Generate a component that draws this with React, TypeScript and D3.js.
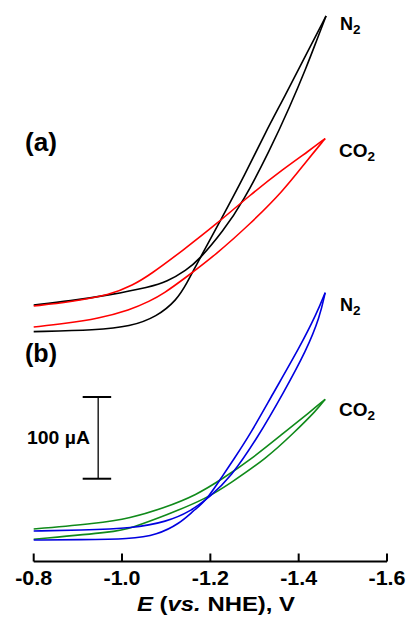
import React from "react";
import * as d3 from "d3";

// ---- data (E in V vs NHE, I in µA relative to each panel's baseline) ----
const tickValues = [-0.8, -1.0, -1.2, -1.4, -1.6];
const tickLabels = ["-0.8", "-1.0", "-1.2", "-1.4", "-1.6"];

// Panel (a) N2 (black)
const aN2Fwd: [number, number][] = [
  [-0.8, 0.4], [-0.943, 2.4], [-1.018, 6.5], [-1.079, 18.7], [-1.124, 39.2],
  [-1.146, 58.8], [-1.174, 88.1], [-1.226, 139.5], [-1.278, 192.2],
  [-1.324, 243.6], [-1.369, 288.9], [-1.414, 336.6], [-1.462, 386.8],
];
const aN2Rev: [number, number][] = [
  [-1.462, 386.8], [-1.441, 357.4], [-1.418, 324.7], [-1.38, 275.8],
  [-1.335, 222.8], [-1.274, 159.1], [-1.229, 123.6], [-1.174, 88.1],
  [-1.146, 75.9], [-1.101, 61.2], [-1.063, 55.1], [-0.973, 45.3],
  [-0.882, 38.0], [-0.8, 33.0],
];
// Panel (a) CO2 (red)
const aCO2Up: [number, number][] = [
  [-0.8, 31.8], [-0.882, 36.7], [-0.973, 45.3], [-1.025, 57.5], [-1.063, 69.8],
  [-1.139, 100.4], [-1.214, 132.2], [-1.29, 167.7], [-1.365, 199.5],
  [-1.426, 222.8], [-1.46, 236.8],
];
const aCO2Low: [number, number][] = [
  [-1.46, 236.8], [-1.418, 209.3], [-1.365, 172.6], [-1.29, 132.2],
  [-1.214, 95.5], [-1.146, 67.3], [-1.093, 46.5], [-1.063, 37.9],
  [-1.018, 26.9], [-0.946, 16.5], [-0.871, 10.4], [-0.8, 6.1],
];
// Panel (b) N2 (blue)
const bN2Fwd: [number, number][] = [
  [-0.8, 0], [-0.905, 0.4], [-1.018, 1.2], [-1.079, 6.1], [-1.131, 20.4],
  [-1.161, 35.5], [-1.192, 49.0], [-1.229, 79.6], [-1.252, 97.9],
  [-1.292, 131.0], [-1.34, 177.5], [-1.403, 236.6], [-1.441, 277.5],
  [-1.46, 302.7],
];
const bN2Rev: [number, number][] = [
  [-1.46, 302.7], [-1.448, 273.3], [-1.418, 232.6], [-1.365, 179.6],
  [-1.308, 126.1], [-1.245, 75.9], [-1.199, 53.0], [-1.154, 34.6],
  [-1.101, 22.4], [-1.026, 14.3], [-0.905, 11.9], [-0.8, 11.0],
];
// Panel (b) CO2 (green)
const bCO2Low: [number, number][] = [
  [-0.8, 0.9], [-0.988, 10.2], [-1.018, 14.3], [-1.101, 30.6], [-1.192, 51.0],
  [-1.245, 69.4], [-1.328, 100.4], [-1.388, 130.6], [-1.441, 159.1],
  [-1.46, 172.2],
];
const bCO2Up: [number, number][] = [
  [-1.46, 172.2], [-1.426, 157.0], [-1.365, 130.6], [-1.29, 97.9],
  [-1.229, 75.5], [-1.169, 55.1], [-1.093, 38.8], [-1.018, 26.6],
  [-0.943, 20.4], [-0.8, 13.5],
];

const scaleBarCurrent = [75, 175]; // µA, panel (b) scale
const scaleBarE = -0.946;

const FONT = "'Liberation Sans', Arial, Helvetica, sans-serif";

export default function App() {
  const W = 406, H = 623;
  const x = d3.scaleLinear().domain([-0.8, -1.6]).range([33.7, 387]);
  const yA = d3.scaleLinear().domain([0, 100]).range([332, 332 - 81.7]);
  const yB = d3.scaleLinear().domain([0, 100]).range([540, 540 - 81.7]);
  const axisY = 561.5;

  const lineA = d3.line<[number, number]>().x(d => x(d[0])).y(d => yA(d[1])).curve(d3.curveBasis);
  const lineB = d3.line<[number, number]>().x(d => x(d[0])).y(d => yB(d[1])).curve(d3.curveBasis);

  const curves = [
    { d: lineA(aN2Fwd), c: "#000000" },
    { d: lineA(aN2Rev), c: "#000000" },
    { d: lineA(aCO2Up), c: "#ff0000" },
    { d: lineA(aCO2Low), c: "#ff0000" },
    { d: lineB(bCO2Low), c: "#108a1a" },
    { d: lineB(bCO2Up), c: "#108a1a" },
    { d: lineB(bN2Fwd), c: "#0000e0" },
    { d: lineB(bN2Rev), c: "#0000e0" },
  ];

  const sbx = x(scaleBarE);
  const sbTop = yB(scaleBarCurrent[1]);
  const sbBot = yB(scaleBarCurrent[0]);

  return (
    <svg width={W} height={H} style={{ position: "absolute", left: 0, top: 0, background: "#fff" }} fontFamily={FONT}>
      {curves.map((c, i) => (
        <path key={i} d={c.d || ""} fill="none" stroke={c.c} strokeWidth={1.6} strokeLinejoin="round" />
      ))}

      {/* axis */}
      <line x1={x(-0.8)} x2={x(-1.6)} y1={axisY} y2={axisY} stroke="#000" strokeWidth={2} />
      {tickValues.map((t, i) => (
        <g key={i}>
          <line x1={x(t)} x2={x(t)} y1={axisY} y2={axisY - 8} stroke="#000" strokeWidth={2} />
          <text x={x(t)} y={585} textAnchor="middle" fontSize={20} fontWeight="bold"
            textLength={37} lengthAdjust="spacingAndGlyphs">{tickLabels[i]}</text>
        </g>
      ))}
      <text x={216} y={611} textAnchor="middle" fontSize={21} fontWeight="bold"
        textLength={158} lengthAdjust="spacingAndGlyphs">
        <tspan fontStyle="italic">E</tspan> (<tspan fontStyle="italic">vs.</tspan> NHE), V
      </text>

      {/* scale bar */}
      <line x1={sbx} x2={sbx} y1={sbTop} y2={sbBot} stroke="#000" strokeWidth={1.3} />
      <line x1={sbx - 15.5} x2={sbx + 13} y1={sbTop} y2={sbTop} stroke="#000" strokeWidth={2} />
      <line x1={sbx - 15.5} x2={sbx + 13} y1={sbBot} y2={sbBot} stroke="#000" strokeWidth={2} />
      <text x={27} y={444} fontSize={19} fontWeight="bold" textLength={63} lengthAdjust="spacingAndGlyphs">100 µA</text>

      {/* panel labels */}
      <text x={25} y={151} fontSize={25} fontWeight="bold" textLength={32} lengthAdjust="spacingAndGlyphs">(a)</text>
      <text x={25} y={362} fontSize={25} fontWeight="bold" textLength={32} lengthAdjust="spacingAndGlyphs">(b)</text>

      {/* gas labels */}
      <text x={340} y={30} fontSize={18} fontWeight="bold">N<tspan fontSize={13.5} dy={4.3}>2</tspan></text>
      <text x={339} y={157} fontSize={19} fontWeight="bold">CO<tspan fontSize={13.5} dy={4.3}>2</tspan></text>
      <text x={340} y={311} fontSize={18} fontWeight="bold">N<tspan fontSize={13.5} dy={4.3}>2</tspan></text>
      <text x={339} y={416} fontSize={19} fontWeight="bold">CO<tspan fontSize={13.5} dy={4.3}>2</tspan></text>
    </svg>
  );
}
